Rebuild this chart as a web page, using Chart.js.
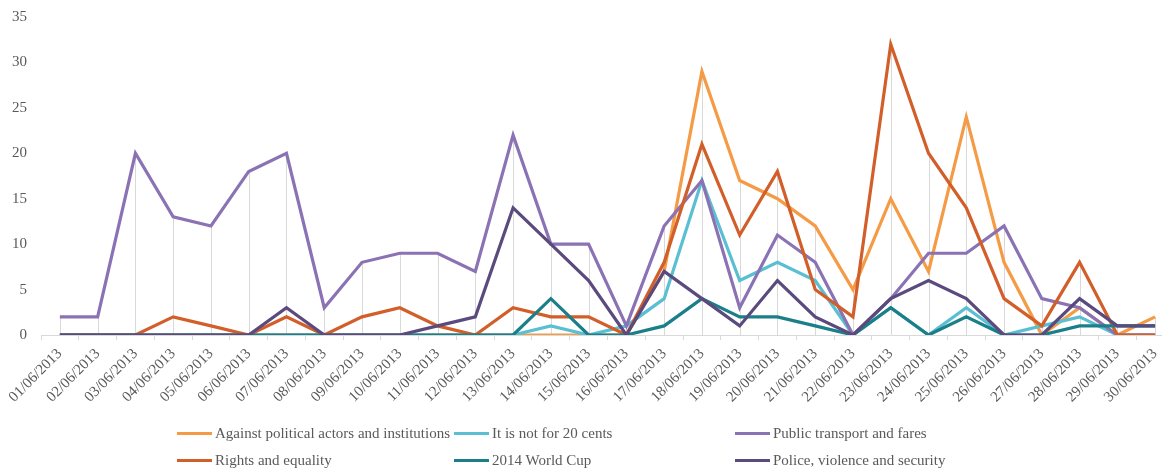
<!DOCTYPE html>
<html>
<head>
<meta charset="utf-8">
<script src="https://cdn.jsdelivr.net/npm/chart.js@4/dist/chart.umd.min.js"></script>
<style>
  html, body { margin: 0; padding: 0; background: #ffffff; overflow: hidden; }
  #wrap { position: relative; width: 1162px; height: 470px; overflow: hidden; }
  #c { position: absolute; left: 0; top: 0; }
  .lg { position: absolute; font-family: 'Liberation Serif', 'Times New Roman', serif; font-size: 15px; color: #595959; white-space: nowrap; line-height: 18px; }
  .lg .sw { position: absolute; left: 0; top: 8px; width: 35px; height: 3px; }
  .lg .tx { position: absolute; left: 38px; top: 0; }
</style>
</head>
<body>
<div id="wrap">
  <canvas id="c" width="1180" height="470"></canvas>
</div>
<script>
const categories = ["01/06/2013","02/06/2013","03/06/2013","04/06/2013","05/06/2013","06/06/2013","07/06/2013","08/06/2013","09/06/2013","10/06/2013","11/06/2013","12/06/2013","13/06/2013","14/06/2013","15/06/2013","16/06/2013","17/06/2013","18/06/2013","19/06/2013","20/06/2013","21/06/2013","22/06/2013","23/06/2013","24/06/2013","25/06/2013","26/06/2013","27/06/2013","28/06/2013","29/06/2013","30/06/2013"];

const againstPolitical = [0,0,0,0,0,0,0,0,0,0,0,0,0,0,0,0,7,29,17,15,12,5,15,7,24,8,0,3,0,2];
const notFor20Cents    = [0,0,0,0,0,0,0,0,0,0,0,0,0,1,0,1,4,17,6,8,6,0,3,0,3,0,1,2,0,0];
const publicTransport  = [2,2,20,13,12,18,20,3,8,9,9,7,22,10,10,1,12,17,3,11,8,0,4,9,9,12,4,3,0,0];
const rightsEquality   = [0,0,0,2,1,0,2,0,2,3,1,0,3,2,2,0,8,21,11,18,5,2,32,20,14,4,1,8,0,0];
const worldCup2014     = [0,0,0,0,0,0,0,0,0,0,0,0,0,4,0,0,1,4,2,2,1,0,3,0,2,0,0,1,1,1];
const policeViolence   = [0,0,0,0,0,0,3,0,0,0,1,2,14,10,6,0,7,4,1,6,2,0,4,6,4,0,0,4,1,1];

const seriesNames = ["Against political actors and institutions","It is not for 20 cents","Public transport and fares","Rights and equality","2014 World Cup","Police, violence and security"];
const seriesColors = ["#F59A45","#5BBFD3","#8A72B4","#D25F2A","#1B7F8A","#5B4A7D"];
const seriesData = [againstPolitical, notFor20Cents, publicTransport, rightsEquality, worldCup2014, policeViolence];
const yTicks = [0,5,10,15,20,25,30,35];

const FONT = "'Liberation Serif', 'Times New Roman', serif";
const TEXT = "#595959";
const AXIS = "#d9d9d9";

const dropLines = {
  id: 'dropLines',
  beforeDatasetsDraw(chart) {
    const {ctx, scales: {x, y}} = chart;
    ctx.save();
    ctx.strokeStyle = AXIS;
    ctx.lineWidth = 1;
    categories.forEach((c, i) => {
      const m = Math.max(...seriesData.map(s => s[i]));
      if (m <= 0) return;
      const px = Math.round(x.getPixelForValue(i)) + 0.5;
      ctx.beginPath();
      ctx.moveTo(px, y.getPixelForValue(m));
      ctx.lineTo(px, y.getPixelForValue(0));
      ctx.stroke();
    });
    ctx.restore();
  }
};

new Chart(document.getElementById('c'), {
  type: 'line',
  data: {
    labels: categories,
    datasets: seriesData.map((d, i) => ({
      label: seriesNames[i],
      data: d,
      borderColor: seriesColors[i],
      backgroundColor: seriesColors[i],
      borderWidth: 3.2,
      pointRadius: 0,
      tension: 0,
      fill: false,
      order: seriesData.length - 1 - i
    }))
  },
  options: {
    responsive: false,
    animation: false,
    devicePixelRatio: 1,
    layout: { autoPadding: false, padding: { top: 17, right: 6, left: 0, bottom: 0 } },
    plugins: { legend: { display: false }, tooltip: { enabled: false } },
    scales: {
      x: {
        offset: true,
        grid: { offset: true, drawOnChartArea: false, drawTicks: true, tickLength: 5, color: AXIS },
        border: { color: AXIS, width: 1 },
        ticks: { minRotation: 45, maxRotation: 45, autoSkip: false, padding: 5, color: TEXT, font: { family: FONT, size: 15 } },
        afterFit(s) { s.height = 135; }
      },
      y: {
        min: 0, max: 35,
        afterBuildTicks(s) { s.ticks = yTicks.map(v => ({ value: v })); },
        grid: { display: false, drawTicks: false },
        border: { display: false },
        ticks: { padding: 14, color: TEXT, font: { family: FONT, size: 15 } },
        afterFit(s) { s.width = 41; s.paddingTop = 9; s.paddingBottom = 9; }
      }
    }
  },
  plugins: [dropLines]
});

// legend (3 columns x 2 rows)
const colLeft = [177, 454, 735];
const rowTop = [424, 451];
const wrap = document.getElementById('wrap');
seriesNames.forEach((name, i) => {
  const el = document.createElement('div');
  el.className = 'lg';
  el.style.left = colLeft[i % 3] + 'px';
  el.style.top = rowTop[Math.floor(i / 3)] + 'px';
  const sw = document.createElement('div');
  sw.className = 'sw';
  sw.style.background = seriesColors[i];
  const tx = document.createElement('span');
  tx.className = 'tx';
  tx.textContent = name;
  el.appendChild(sw);
  el.appendChild(tx);
  wrap.appendChild(el);
});
</script>
</body>
</html>
